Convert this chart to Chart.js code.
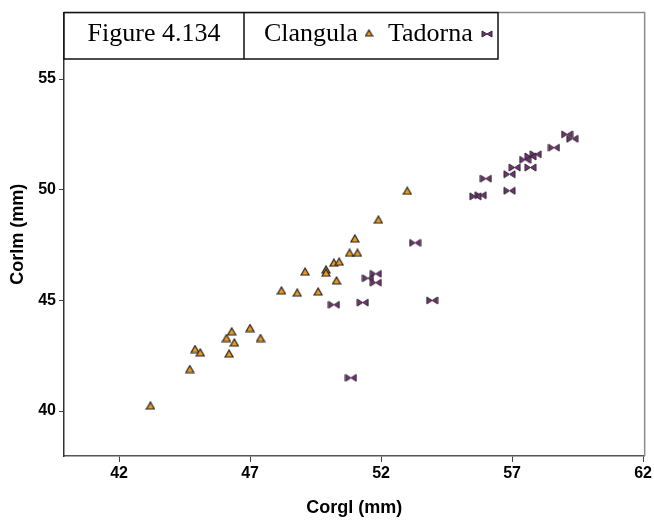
<!DOCTYPE html>
<html>
<head>
<meta charset="utf-8">
<script src="https://cdn.jsdelivr.net/npm/chart.js@4.4.1/dist/chart.umd.min.js"></script>
<style>
  html, body { margin: 0; padding: 0; background: #fff; }
  canvas { display: block; }
</style>
</head>
<body>
<canvas id="grafico" width="654" height="523"></canvas>
<script>
const tituloFigura = "Figure 4.134";
const nomesSeries = ["Clangula", "Tadorna"];
const tituloX = "Corgl (mm)";
const tituloY = "Corlm (mm)";
const ticksX = [42, 47, 52, 57, 62];
const ticksY = [40, 45, 50, 55];

// Clangula (triângulos laranja)
const clangulaX = [43.2, 44.7, 44.9, 45.1, 46.2, 46.1, 46.3, 46.4, 47.0, 47.4,
    48.2, 48.8, 49.1, 49.6, 49.9, 49.9, 50.2, 50.4, 50.3, 50.8, 51.1, 51.0, 51.9, 53.0];
const clangulaY = [40.25, 41.9, 42.8, 42.65, 42.6, 43.3, 43.6, 43.1, 43.75, 43.3,
    45.45, 45.35, 46.3, 45.4, 46.4, 46.25, 46.7, 46.75, 45.9, 47.15, 47.15, 47.8, 48.65, 49.95];

// Tadorna (gravatas roxas)
const tadornaX = [53.3, 51.8, 51.5, 51.8, 50.2, 51.3, 53.95, 50.85,
    59.1, 59.3, 58.6, 57.9, 57.7, 57.5, 57.1, 57.7, 56.9, 56.0, 56.9, 55.8, 55.6];
const tadornaY = [47.6, 46.2, 46.0, 45.8, 44.8, 44.9, 45.0, 41.5,
    52.5, 52.3, 51.9, 51.6, 51.5, 51.35, 51.0, 51.0, 50.7, 50.5, 49.95, 49.75, 49.7];

const corLaranja = "#f09a1a";
const corRoxo = "#7a2e7c";

function criarTriangulo(larg, alt) {
    const c = document.createElement("canvas");
    c.width = larg + 2;
    c.height = alt + 2;
    const g = c.getContext("2d");
    g.beginPath();
    g.moveTo(c.width / 2, 1);
    g.lineTo(larg + 1, alt + 1);
    g.lineTo(1, alt + 1);
    g.closePath();
    g.fillStyle = corLaranja;
    g.fill();
    g.lineWidth = 1.2;
    g.strokeStyle = "#222";
    g.stroke();
    return c;
}

function criarGravata(larg, alt) {
    const c = document.createElement("canvas");
    c.width = larg + 2;
    c.height = alt + 2;
    const g = c.getContext("2d");
    const meioX = c.width / 2, meioY = c.height / 2;
    g.beginPath();
    g.moveTo(1, 1);
    g.lineTo(meioX, meioY);
    g.lineTo(1, alt + 1);
    g.closePath();
    g.moveTo(larg + 1, 1);
    g.lineTo(meioX, meioY);
    g.lineTo(larg + 1, alt + 1);
    g.closePath();
    g.fillStyle = corRoxo;
    g.fill();
    g.lineWidth = 1;
    g.strokeStyle = "#2a2a2a";
    g.stroke();
    return c;
}

const pontoTriangulo = criarTriangulo(8, 7);
const pontoGravata = criarGravata(11, 7);
const legTriangulo = criarTriangulo(7, 6);
const legGravata = criarGravata(10, 6);

const quadroLegenda = {
    id: "quadroLegenda",
    afterDraw(chart) {
        const ctx = chart.ctx;
        const area = chart.chartArea;
        ctx.save();
        // bordas de cima e da direita
        ctx.strokeStyle = "#8c8c8c";
        ctx.lineWidth = 1.5;
        ctx.beginPath();
        ctx.moveTo(area.left, area.top);
        ctx.lineTo(area.right, area.top);
        ctx.lineTo(area.right, area.bottom);
        ctx.stroke();

        // caixa do título / legenda
        const x0 = area.left, x1 = 244, x2 = 498, y0 = area.top, y1 = 59;
        ctx.fillStyle = "#fff";
        ctx.fillRect(x0, y0, x2 - x0, y1 - y0);
        ctx.strokeStyle = "#111";
        ctx.lineWidth = 1.5;
        ctx.strokeRect(x0, y0, x2 - x0, y1 - y0);
        ctx.beginPath();
        ctx.moveTo(x1, y0);
        ctx.lineTo(x1, y1);
        ctx.stroke();

        ctx.fillStyle = "#000";
        ctx.font = '26px "Liberation Serif", "Times New Roman", serif';
        ctx.textBaseline = "alphabetic";
        ctx.textAlign = "center";
        ctx.fillText(tituloFigura, (x0 + x1) / 2, 41);

        ctx.textAlign = "left";
        ctx.fillText(nomesSeries[0], 264, 41);
        ctx.drawImage(legTriangulo, 369 - legTriangulo.width / 2, 33 - legTriangulo.height / 2);
        ctx.fillText(nomesSeries[1], 388, 41);
        ctx.drawImage(legGravata, 487 - legGravata.width / 2, 34 - legGravata.height / 2);
        ctx.restore();
    }
};

const fonteEixo = { family: '"Liberation Sans", Arial, sans-serif', weight: "bold" };

new Chart(document.getElementById("grafico").getContext("2d"), {
    type: "scatter",
    data: {
        datasets: [
            {
                label: nomesSeries[0],
                data: clangulaX.map((x, i) => ({ x: x, y: clangulaY[i] })),
                pointStyle: pontoTriangulo
            },
            {
                label: nomesSeries[1],
                data: tadornaX.map((x, i) => ({ x: x, y: tadornaY[i] })),
                pointStyle: pontoGravata
            }
        ]
    },
    options: {
        responsive: false,
        animation: false,
        layout: { padding: { top: 6, right: 9, left: 0, bottom: 0 } },
        plugins: {
            legend: { display: false },
            tooltip: { enabled: false }
        },
        scales: {
            x: {
                type: "linear",
                min: 39.9,
                max: 62.06,
                afterBuildTicks: escala => { escala.ticks = ticksX.map(v => ({ value: v })); },
                afterFit: escala => { escala.height = 67; },
                grid: { drawOnChartArea: false, drawTicks: true, tickLength: 6, color: "#444" },
                border: { display: true, color: "#555", width: 1.5 },
                ticks: { color: "#000", font: { ...fonteEixo, size: 16 }, padding: 2, maxRotation: 0 },
                title: { display: true, text: tituloX, color: "#000", font: { ...fonteEixo, size: 18 }, padding: { top: 6 } }
            },
            y: {
                type: "linear",
                min: 37.97,
                max: 58.0,
                afterBuildTicks: escala => { escala.ticks = ticksY.map(v => ({ value: v })); },
                afterFit: escala => { escala.width = 64; },
                grid: { drawOnChartArea: false, drawTicks: true, tickLength: 5, color: "#444" },
                border: { display: true, color: "#333", width: 1.5 },
                ticks: { color: "#000", font: { ...fonteEixo, size: 16 }, padding: 3 },
                title: { display: true, text: tituloY, color: "#000", font: { ...fonteEixo, size: 18 }, padding: { top: 7, bottom: 0 } }
            }
        }
    },
    plugins: [quadroLegenda]
});
</script>
</body>
</html>
